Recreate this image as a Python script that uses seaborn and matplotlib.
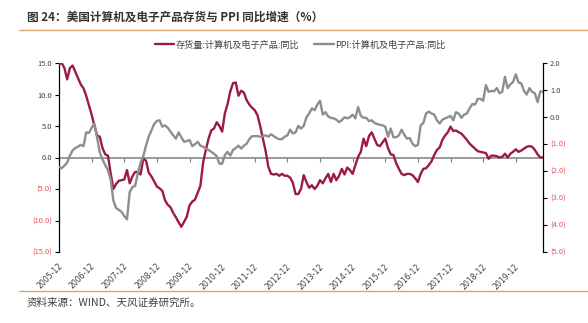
import numpy as np
import pandas as pd
import matplotlib
matplotlib.use("Agg")
import matplotlib.pyplot as plt
import matplotlib.transforms as mtransforms
from matplotlib.lines import Line2D
import seaborn as sns

# ---------------- data (monthly, from 2005-12) ----------------
start_month = "2005-12"
inventory_yoy = [
    14.8, 15.0, 14.2, 12.4, 14.2, 14.6, 13.6, 12.6, 11.6, 11.0, 9.8, 8.3,
    6.8, 5.1, 3.5, 3.3, 1.5, 0.5, 0.3, -2.5, -5.0, -4.2, -3.7, -3.6,
    -3.5, -2.0, -4.1, -3.0, -2.3, -2.3, -2.7, -0.2, -0.5, -2.4, -3.0, -3.8,
    -4.6, -4.9, -5.3, -6.8, -7.5, -7.9, -8.8, -9.5, -10.3, -11.0, -10.2, -9.4,
    -7.6, -7.0, -6.7, -5.6, -4.5, -0.8, 1.2, 3.0, 4.3, 4.6, 5.6, 5.0,
    4.1, 7.0, 8.5, 10.5, 11.8, 11.9, 9.8, 10.6, 10.3, 9.1, 8.4, 7.9,
    7.5, 6.7, 5.0, 3.0, 1.0, -1.5, -2.6, -2.7, -2.6, -2.9, -2.6, -2.9,
    -2.9, -3.2, -4.0, -5.8, -5.8, -5.0, -2.8, -3.9, -4.8, -4.4, -5.0, -4.5,
    -3.6, -4.1, -3.3, -2.6, -3.9, -2.6, -3.6, -2.9, -1.8, -2.7, -1.6, -2.0,
    -2.6, -1.2, 0.1, 0.9, 3.0, 1.8, 3.4, 4.0, 3.0, 2.0, 1.8, 2.4,
    3.0, 1.5, 0.5, 0.4, -0.9, -1.8, -2.6, -2.8, -2.6, -2.6, -2.8, -3.3,
    -3.9, -2.6, -1.8, -1.7, -1.2, -0.6, 0.4, 1.2, 1.6, 2.8, 3.5, 4.0,
    4.9, 4.2, 4.3, 4.0, 3.8, 3.3, 2.8, 2.2, 1.8, 1.4, 1.0, 0.9,
    0.8, 0.7, -0.2, 0.3, 0.3, 0.2, 0.0, 0.1, 0.6, 0.0, 0.6, 0.9,
    1.3, 0.9, 1.1, 1.4, 1.7, 1.8, 1.7, 1.2, 0.5, 0.0, 0.0,
]
ppi_yoy = [
    -1.85, -1.90, -1.80, -1.69, -1.43, -1.24, -1.15, -1.10, -1.03, -1.08, -0.57, -0.59,
    -0.40, -0.24, -0.75, -1.31, -1.57, -1.78, -1.97, -2.32, -3.09, -3.37, -3.44, -3.51,
    -3.67, -3.79, -2.78, -2.60, -2.55, -2.08, -1.69, -1.45, -1.06, -0.73, -0.50, -0.26,
    -0.15, -0.12, -0.36, -0.31, -0.40, -0.54, -0.68, -0.80, -0.57, -0.75, -0.92, -0.89,
    -0.85, -1.08, -1.01, -0.92, -1.06, -1.10, -1.17, -1.22, -1.29, -1.36, -1.45, -1.73,
    -1.73, -1.41, -1.29, -1.43, -1.22, -1.15, -1.06, -1.17, -1.06, -0.99, -0.82, -0.71,
    -0.71, -0.71, -0.73, -0.71, -0.68, -0.73, -0.64, -0.71, -0.78, -0.82, -0.82, -0.73,
    -0.68, -0.47, -0.61, -0.57, -0.33, -0.43, -0.33, -0.01, 0.13, 0.32, 0.25, 0.46,
    0.60, 0.09, 0.18, 0.02, -0.03, -0.05, -0.10, -0.19, -0.12, -0.01, -0.05, -0.01,
    0.09, -0.05, 0.37, 0.04, -0.03, -0.03, -0.15, -0.12, -0.22, -0.26, -0.29, -0.31,
    -0.36, -0.73, -0.43, -0.75, -0.75, -0.68, -0.47, -0.66, -0.80, -0.78, -0.99, -1.08,
    -1.03, -0.31, -0.22, 0.13, 0.20, 0.13, 0.09, -0.12, -0.24, -0.10, -0.05, -0.01,
    0.04, -0.12, 0.18, 0.13, -0.03, 0.09, 0.13, 0.32, 0.48, 0.46, 0.67, 0.67,
    0.60, 1.18, 0.93, 0.97, 0.95, 1.07, 0.88, 0.93, 1.49, 1.07, 1.21, 1.30,
    1.58, 1.28, 1.25, 0.97, 0.83, 1.07, 0.93, 0.88, 0.55, 0.95, 0.93,
]
year_labels = ["2005-12", "2006-12", "2007-12", "2008-12", "2009-12", "2010-12",
               "2011-12", "2012-12", "2013-12", "2014-12", "2015-12", "2016-12",
               "2017-12", "2018-12", "2019-12"]
left_ticks = [15, 10, 5, 0, -5, -10, -15]
right_ticks = [2, 1, 0, -1, -2, -3, -4, -5]
series_names = ["存货量:计算机及电子产品:同比", "PPI:计算机及电子产品:同比"]
title_text = "图 24：美国计算机及电子产品存货与 PPI 同比增速（%）"
source_text = "资料来源：WIND、天风证券研究所。"

# ---------------- style ----------------
sns.set_style("white")
plt.rcParams["font.family"] = ["Noto Sans CJK SC", "DejaVu Sans"]

RED = "#9B1C42"
GRAY = "#8E8E8E"
ORANGE = "#D7A46E"
NEG = "#E2545A"
TXT = "#404040"

df_inv = pd.DataFrame({"m": np.arange(len(inventory_yoy)), "v": inventory_yoy})
df_ppi = pd.DataFrame({"m": np.arange(len(ppi_yoy)), "v": ppi_yoy})
n = max(len(inventory_yoy), len(ppi_yoy))

W, H = 588, 323
fig = plt.figure(figsize=(W / 100, H / 100), dpi=100)
L, R, T, B = 59, 543, 63, 252
ax = fig.add_axes([L / W, 1 - B / H, (R - L) / W, (B - T) / H])
ax2 = ax.twinx()

ax.axhline(0, color="#7F7F7F", lw=1.1, zorder=1)
sns.lineplot(data=df_inv, x="m", y="v", ax=ax, color=RED, lw=1.7, zorder=3)
sns.lineplot(data=df_ppi, x="m", y="v", ax=ax2, color=GRAY, lw=1.7, zorder=3)

ax.set_xlim(0, n - 1)
ax.set_ylim(-15, 15)
ax2.set_ylim(-5, 2)
ax.set_xlabel("")
ax.set_ylabel("")
ax2.set_ylabel("")

def fmt(v):
    return f"{v:.1f}" if v >= 0 else f"({abs(v):.1f})"

ax.set_yticks(left_ticks)
ax.set_yticklabels([fmt(v) for v in left_ticks])
for lab, v in zip(ax.get_yticklabels(), left_ticks):
    lab.set_color(NEG if v < 0 else TXT)
ax2.set_yticks(right_ticks)
ax2.set_yticklabels([fmt(v) for v in right_ticks])
for lab, v in zip(ax2.get_yticklabels(), right_ticks):
    lab.set_color(NEG if v < 0 else TXT)

ax.tick_params(axis="y", direction="out", length=3, width=0.8, pad=2,
               labelsize=5.4, color="black", left=True)
ax2.tick_params(axis="y", direction="out", length=3, width=0.8, pad=2,
                labelsize=5.4, color="black", right=True)

# x ticks on the zero line
xt = [12 * i for i in range(len(year_labels))]
ax.set_xticks(xt)
ax.set_xticklabels([])
ax.spines["bottom"].set_position(("data", 0))
ax.spines["bottom"].set_visible(False)
ax.tick_params(axis="x", direction="out", length=3, width=0.8, color="#7F7F7F", bottom=True)
ax2.tick_params(axis="x", bottom=False)

for s in ["top", "right"]:
    ax.spines[s].set_visible(False)
for s in ["top", "bottom", "left"]:
    ax2.spines[s].set_visible(False)
ax.spines["left"].set_color("black")
ax.spines["left"].set_linewidth(0.9)
ax2.spines["right"].set_color("black")
ax2.spines["right"].set_linewidth(0.9)

trans = mtransforms.blended_transform_factory(ax.transData, ax.transAxes) + \
    mtransforms.ScaledTranslation(2 / 100, 0, fig.dpi_scale_trans)
for xv, lab in zip(xt, year_labels):
    ax.text(xv, -13 / (B - T), lab, transform=trans, rotation=45,
            rotation_mode="anchor", ha="right", va="center",
            fontsize=5.6, color=TXT, family=["DejaVu Sans"])

# legend
handles = [Line2D([0], [0], color=RED, lw=1.7), Line2D([0], [0], color=GRAY, lw=1.7)]
fig.legend(handles, series_names, loc="center", bbox_to_anchor=(300 / W, 1 - 45 / H),
           ncol=2, frameon=False, fontsize=6.6, handlelength=2.1, handletextpad=0.15,
           columnspacing=1.7, labelcolor=TXT)

# title, rules, source
fig.text(27 / W, 1 - 17 / H, title_text, fontsize=8.4, fontweight="bold",
         color="#333333", va="center", ha="left")
fig.add_artist(Line2D([19 / W, 1.0], [1 - 29.5 / H] * 2, color=ORANGE, lw=1.0))
fig.add_artist(Line2D([19 / W, 1.0], [1 - 291 / H] * 2, color=ORANGE, lw=1.0))
fig.text(27 / W, 1 - 303 / H, source_text, fontsize=7.6, color=TXT,
         va="center", ha="left")

fig.savefig("out.png", dpi=100)
